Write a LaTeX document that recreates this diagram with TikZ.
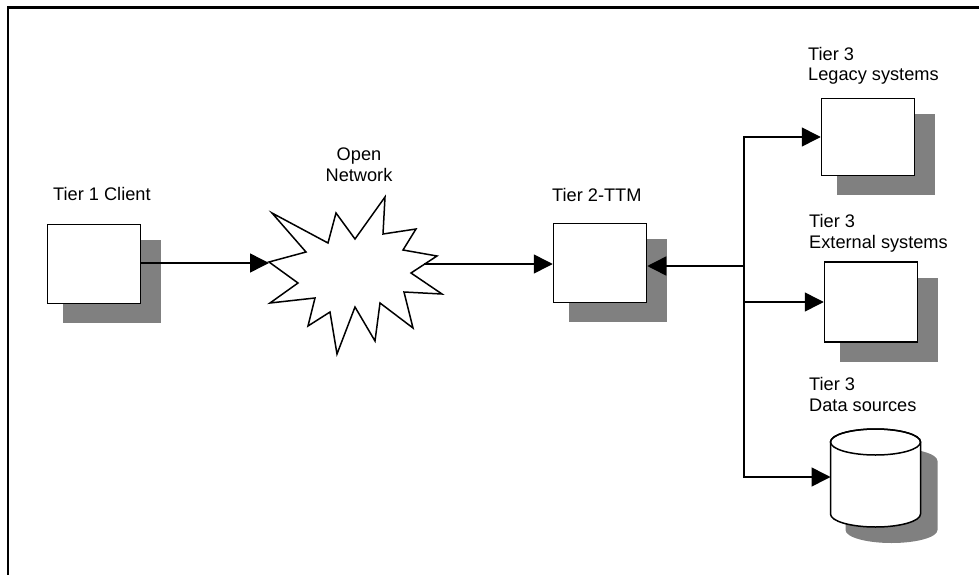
\documentclass[tikz,border=0pt]{standalone}
\usepackage{fontspec}
\setmainfont{Liberation Sans}
\usetikzlibrary{arrows.meta,shadows}

\begin{document}
\begin{tikzpicture}[x=1pt, y=-1pt,
  font=\fontsize{18.2}{20.5}\selectfont,
  lbl/.style={anchor=base west, inner sep=0pt, align=left},
  shad/.style={drop shadow={shadow xshift=17pt, shadow yshift=-17pt, shadow scale=1.05, fill=black!50, opacity=1}},
  box/.style={draw, line width=1.5pt, fill=white, minimum width=93pt, minimum height=79pt, inner sep=0pt, shad},
  arr/.style={line width=1.5pt, -{Triangle[length=19pt, width=19pt]}}]
\useasboundingbox (0,0) rectangle (979,575);
% frame
\draw[line width=2.5pt] (979,7.5) -- (8,7.5) -- (8,575);
% open network (star)
\draw[line width=1.5pt, fill=white] (269,262) -- (306,252) -- (272,213) -- (328,243) -- (336,213)
  -- (355,239) -- (385,197) -- (383,234) -- (416,229) -- (403,250) -- (437,256) -- (411,273)
  -- (442,294) -- (404,292) -- (413,328) -- (380,303) -- (375,341) -- (355,307) -- (337,354)
  -- (330,312) -- (308,326) -- (315,298) -- (270,303) -- (298,283) -- cycle;
\coordinate (netL) at (269,263);
\coordinate (netR) at (424,264);
% tiers
\node[box] (client) at (94,264) {};
\node[box] (ttm) at (600,263) {};
\node[box, minimum height=77pt] (legacy) at (868,137) {};
\node[box, minimum height=80pt] (ext) at (871,302) {};
% data sources (cylinder)
\fill[black!50] (845.5,461) -- (845.5,530) arc[start angle=180, end angle=0, x radius=46, y radius=13]
  -- (937.5,461) arc[start angle=0, end angle=-180, x radius=46, y radius=13] -- cycle;
\draw[line width=1.5pt, fill=white] (830.5,442) -- (830.5,514) arc[start angle=180, end angle=0, x radius=45, y radius=13]
  -- (920.5,442) arc[start angle=0, end angle=-180, x radius=45, y radius=13] -- cycle;
\draw[line width=1.5pt] (875.5,442) ellipse[x radius=45, y radius=13];
\coordinate (data) at (830.5,477);
% labels
\node[lbl] (lclient) at (53,200) {Tier 1 Client};
\node[lbl, anchor=base, align=center] (lnet) at (359,181) {Open\\Network};
\node[lbl] (lttm) at (552,201) {Tier 2-TTM};
\node[lbl] (llegacy) at (808,81) {Tier 3\\Legacy systems};
\node[lbl] (lext) at (809,248) {Tier 3\\External systems};
\node[lbl] (ldata) at (809,411) {Tier 3\\Data sources};
% connectors
\coordinate (bus) at (744,266);
\draw[arr] (client.east |- netL) -- (netL);
\draw[arr] (netR) -- (netR -| ttm.west);
\draw[arr] (bus) -- (bus -| ttm.east);
\draw[arr] (bus) |- (legacy.west);
\draw[arr] (bus) |- (ext.west);
\draw[arr] (bus) |- (data);
\end{tikzpicture}
\end{document}
